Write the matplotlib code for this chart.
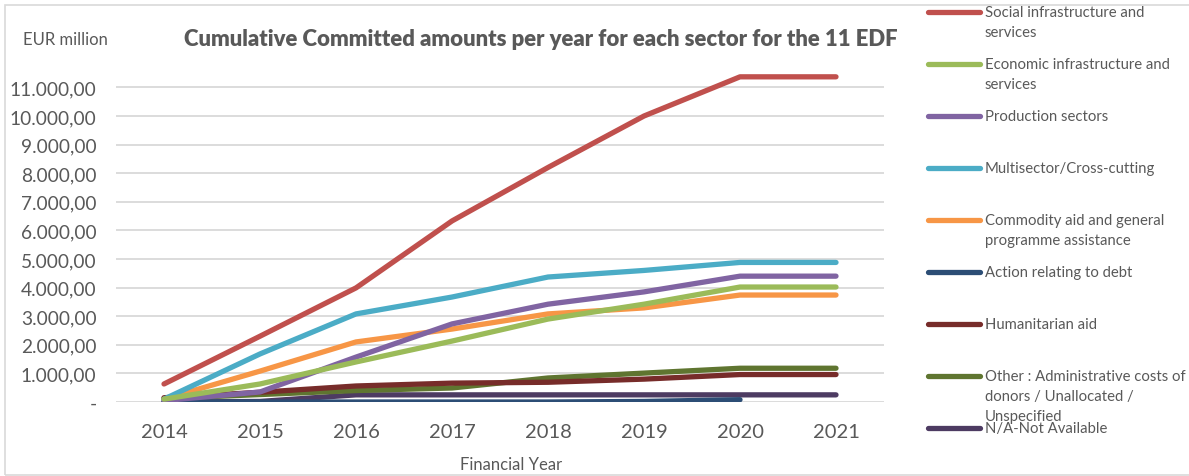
import matplotlib
matplotlib.use("Agg")
import matplotlib.pyplot as plt
from matplotlib.lines import Line2D
from matplotlib.patches import Rectangle
import numpy as np

years = ["2014", "2015", "2016", "2017", "2018", "2019", "2020", "2021"]

social = [630, 2300, 3990, 6330, 8200, 10000, 11370, 11370]
economic = [100, 630, 1400, 2130, 2900, 3420, 4020, 4020]
production = [50, 350, 1570, 2730, 3420, 3850, 4400, 4400]
multisector = [100, 1680, 3080, 3670, 4370, 4600, 4880, 4880]
commodity = [100, 1080, 2100, 2550, 3080, 3290, 3740, 3740]
debt = [0, 0, 0, 0, 0, 20, 80, None]
humanitarian = [150, 340, 560, 660, 690, 800, 960, 960]
other = [120, 260, 400, 490, 840, 1010, 1180, 1180]
not_available = [0, 20, 250, 250, 250, 250, 250, 250]

series_labels = [
    "Social infrastructure and\nservices",
    "Economic infrastructure and\nservices",
    "Production sectors",
    "Multisector/Cross-cutting",
    "Commodity aid and general\nprogramme assistance",
    "Action relating to debt",
    "Humanitarian aid",
    "Other : Administrative costs of\ndonors / Unallocated /\nUnspecified",
    "N/A-Not Available",
]
series_values = [social, economic, production, multisector, commodity,
                 debt, humanitarian, other, not_available]
colors = ["#C0504D", "#9BBB59", "#8064A2", "#4BACC6", "#F79646",
          "#2C4D75", "#772C2A", "#5F7530", "#4D3B62"]

y_ticks = list(range(0, 11001, 1000))

plt.rcParams['font.family'] = ['Lato', 'DejaVu Sans']
gray = "#595959"

fig = plt.figure(figsize=(11.89, 4.77), dpi=100)
W, H = 1189, 477

def fx(px):
    return px / W

def fy(py):
    return 1 - py / H

ax_left, ax_right = 116, 884
ax_bottom = 403
ymax = 11700
px_per_unit = 28.6 / 1000
ax_top = ax_bottom - ymax * px_per_unit
ax = fig.add_axes([fx(ax_left), fy(ax_bottom), fx(ax_right - ax_left), (ax_bottom - ax_top) / H])

x = np.arange(len(years))
n = len(series_values)
for i in range(n - 1, -1, -1):
    vals = series_values[i]
    xs = [xi for xi, v in zip(x, vals) if v is not None]
    vs = [v for v in vals if v is not None]
    ax.plot(xs, vs, color=colors[i], lw=3.8, solid_capstyle='round',
            solid_joinstyle='round', zorder=3 + (n - i) * 0.01)

ax.set_xlim(-0.5, len(years) - 0.5)
ax.set_ylim(0, ymax)
ax.set_xticks(x)
ax.set_xticklabels(years)
ax.set_yticks(y_ticks)

def fmt(v):
    if v == 0:
        return "-"
    s = f"{v:,.2f}"
    return s.replace(",", "X").replace(".", ",").replace("X", ".")

ax.set_yticklabels([fmt(v) for v in y_ticks])
ax.tick_params(axis='x', length=0, labelsize=14.5, colors=gray, pad=15)
ax.tick_params(axis='y', length=0, labelsize=13.8, colors=gray, pad=14)
ax.grid(axis='y', color="#D9D9D9", lw=1.3)
ax.set_axisbelow(True)
for sp in ax.spines.values():
    sp.set_visible(False)

# title and axis titles
fig.text(fx(541), fy(40), "Cumulative Committed amounts per year for each sector for the 11 EDF",
         ha='center', va='center', fontsize=15.9, fontweight='heavy', color=gray)
fig.text(fx(65), fy(40), "EUR million", ha='center', va='center', fontsize=12, color=gray)
fig.text(fx(511), fy(465), "Financial Year", ha='center', va='center', fontsize=12, color=gray)

# legend
leg_y = [13, 65, 117, 169, 221, 273, 325, 377, 429]
for lab, col, yy in zip(series_labels, colors, leg_y):
    fig.add_artist(Line2D([fx(928), fx(980)], [fy(yy), fy(yy)], color=col, lw=3.8,
                          solid_capstyle='round'))
    for k, line in enumerate(lab.split("\n")):
        fig.text(fx(985), fy(yy + 20 * k), line, ha='left', va='center',
                 fontsize=10.7, color=gray)

# chart border
fig.add_artist(Rectangle((fx(5), fy(476)), fx(1189), (476 - 6) / H,
                         fill=False, edgecolor="#D9D9D9", lw=1.2, transform=fig.transFigure))

fig.savefig("out.png", dpi=100)
